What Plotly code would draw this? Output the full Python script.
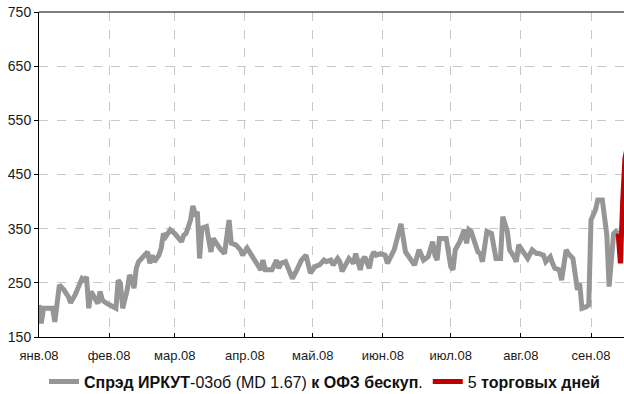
import plotly.graph_objects as go

# Spread readings (bp) for the main series
dates_main = [
    "2008-01-01", "2008-01-02", "2008-01-03", "2008-01-07", "2008-01-08", "2008-01-10",
    "2008-01-12", "2008-01-14", "2008-01-15", "2008-01-17", "2008-01-20", "2008-01-21",
    "2008-01-22", "2008-01-23", "2008-01-24", "2008-01-26", "2008-01-27", "2008-01-28",
    "2008-01-29", "2008-01-31",
    "2008-02-03", "2008-02-04", "2008-02-05", "2008-02-06", "2008-02-07", "2008-02-09",
    "2008-02-10", "2008-02-11", "2008-02-12", "2008-02-13", "2008-02-14", "2008-02-17",
    "2008-02-18", "2008-02-19", "2008-02-20", "2008-02-21", "2008-02-23", "2008-02-24",
    "2008-02-25", "2008-02-26", "2008-02-28",
    "2008-03-01", "2008-03-04", "2008-03-05", "2008-03-06", "2008-03-08", "2008-03-09",
    "2008-03-10", "2008-03-11", "2008-03-12", "2008-03-13", "2008-03-15", "2008-03-17",
    "2008-03-18", "2008-03-19", "2008-03-21", "2008-03-23", "2008-03-25", "2008-03-26",
    "2008-03-28", "2008-03-30", "2008-03-31",
    "2008-04-02", "2008-04-05", "2008-04-06", "2008-04-08", "2008-04-09", "2008-04-10",
    "2008-04-13", "2008-04-14", "2008-04-15", "2008-04-16", "2008-04-17", "2008-04-19",
    "2008-04-21", "2008-04-22", "2008-04-24", "2008-04-26", "2008-04-28", "2008-04-29",
    "2008-04-30",
    "2008-05-02", "2008-05-04", "2008-05-06", "2008-05-07", "2008-05-09", "2008-05-10",
    "2008-05-12", "2008-05-13", "2008-05-14", "2008-05-16", "2008-05-17", "2008-05-19",
    "2008-05-20", "2008-05-22", "2008-05-23", "2008-05-24", "2008-05-26", "2008-05-27",
    "2008-05-28", "2008-05-29", "2008-05-31",
    "2008-06-02", "2008-06-03", "2008-06-06", "2008-06-07", "2008-06-09", "2008-06-11",
    "2008-06-13", "2008-06-15", "2008-06-17", "2008-06-19", "2008-06-21", "2008-06-23",
    "2008-06-24", "2008-06-25", "2008-06-26", "2008-06-29",
    "2008-07-01", "2008-07-02", "2008-07-03", "2008-07-05", "2008-07-07", "2008-07-08",
    "2008-07-09", "2008-07-10", "2008-07-13", "2008-07-14", "2008-07-15", "2008-07-17",
    "2008-07-19", "2008-07-21", "2008-07-23", "2008-07-24", "2008-07-26", "2008-07-27",
    "2008-07-29", "2008-07-30", "2008-07-31",
    "2008-08-02", "2008-08-04", "2008-08-06", "2008-08-08", "2008-08-09", "2008-08-11",
    "2008-08-12", "2008-08-14", "2008-08-15", "2008-08-16", "2008-08-18", "2008-08-19",
    "2008-08-21", "2008-08-22", "2008-08-24", "2008-08-25", "2008-08-26", "2008-08-27",
    "2008-08-28", "2008-08-30", "2008-08-31",
    "2008-09-01", "2008-09-03", "2008-09-04", "2008-09-06", "2008-09-08", "2008-09-09",
    "2008-09-11", "2008-09-12", "2008-09-13",
]
spread_main = [
    209, 175, 203, 203, 178, 246, 237, 224, 213, 228, 258, 255, 261, 203, 234, 218, 212, 234, 218, 212,
    206, 203, 255, 249, 203, 237, 264, 258, 240, 277, 289, 301, 307, 286, 301, 289, 301, 314, 341, 335, 348,
    341, 326, 338, 341, 366, 392, 378, 381, 295, 351, 354, 307, 332, 325, 313, 304, 366, 323, 320, 311, 301,
    314, 295, 289, 274, 292, 274, 274, 283, 292, 277, 286, 289, 268, 258, 274, 292, 301, 280, 268,
    280, 283, 292, 289, 292, 283, 295, 289, 271, 286, 295, 286, 304, 274, 292, 298, 277, 298, 307, 301, 304,
    301, 286, 311, 326, 359, 307, 295, 283, 311, 292, 298, 326, 301, 292, 332, 332,
    280, 274, 311, 326, 348, 323, 348, 345, 307, 304, 289, 345, 341, 295, 295, 372, 345, 311, 298, 289, 320,
    307, 295, 311, 304, 304, 301, 289, 298, 286, 277, 274, 255, 311, 304, 295, 264, 237, 249, 203, 206, 209,
    366, 385, 403, 403, 338, 243, 341, 345, 341,
]

# Last five trading days
dates_last5 = ["2008-09-13", "2008-09-14", "2008-09-15", "2008-09-16", "2008-09-17"]
spread_last5 = [341, 286, 400, 480, 500]

tick_dates = ["2008-01-01", "2008-02-01", "2008-03-01", "2008-04-01", "2008-05-01",
              "2008-06-01", "2008-07-01", "2008-08-01", "2008-09-01"]
tick_labels = ["янв.08", "фев.08", "мар.08", "апр.08", "май.08",
               "июн.08", "июл.08", "авг.08", "сен.08"]
y_ticks = [150, 250, 350, 450, 550, 650, 750]

FONT = "Liberation Sans Narrow, Arial Narrow, Liberation Sans, Arial, sans-serif"

fig = go.Figure()
fig.add_trace(go.Scatter(
    x=dates_main, y=spread_main, mode="lines",
    name="<b>Спрэд ИРКУТ</b>-03об (MD 1.67) <b>к ОФЗ бескуп</b>.",
    line=dict(color="#969696", width=5),
))
fig.add_trace(go.Scatter(
    x=dates_last5, y=spread_last5, mode="lines",
    name="5 <b>торговых дней</b>",
    line=dict(color="#c00000", width=5),
))

fig.update_layout(
    width=624, height=394,
    margin=dict(l=39, r=0, t=12, b=57, autoexpand=False),
    paper_bgcolor="white", plot_bgcolor="white",
    font=dict(family=FONT, size=13, color="#1a1a1a"),
    showlegend=True,
    legend=dict(orientation="h", x=0.488, xanchor="center", y=-0.085, yanchor="top",
                font=dict(family=FONT, size=16, color="#111"),
                bgcolor="rgba(0,0,0,0)", tracegroupgap=0),
    shapes=[dict(type="line", xref="paper", yref="paper", x0=0, x1=1, y0=1, y1=1,
                 line=dict(color="black", width=1))],
)
fig.update_xaxes(
    type="date", range=["2008-01-01", "2008-09-15 14:00"], automargin=False,
    tickmode="array", tickvals=tick_dates, ticktext=tick_labels,
    showgrid=True, gridcolor="#c8c8c8", griddash="dash", gridwidth=1,
    showline=True, linecolor="black", linewidth=1,
    ticks="inside", ticklen=4, tickcolor="black", ticklabelstandoff=6,
    tickfont=dict(size=13), zeroline=False,
)
fig.update_yaxes(
    range=[150, 750], tickmode="array", tickvals=y_ticks, automargin=False,
    showgrid=True, gridcolor="#c8c8c8", griddash="dash", gridwidth=1,
    showline=True, linecolor="black", linewidth=1,
    ticks="outside", ticklen=4, tickcolor="black",
    tickfont=dict(size=14), zeroline=False,
)

fig.write_html("out.html", config={"displayModeBar": False},
               post_script="document.body.style.margin='0';")
